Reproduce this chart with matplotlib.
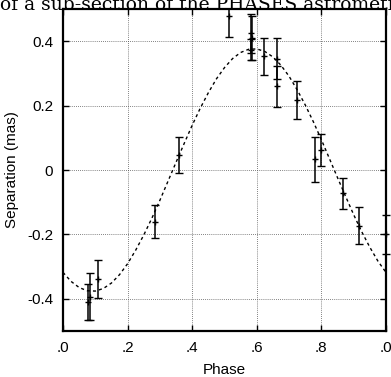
import matplotlib.pyplot as plt
import numpy as np

# measured points: orbital phase, separation (mas), 1-sigma error (mas)
phase = [0.078, 0.083, 0.107, 0.285, 0.360, 0.514, 0.582, 0.584, 0.583,
         0.623, 0.662, 0.664, 0.725, 0.780, 0.799, 0.867, 0.917, 1.000]
sep = [-0.410, -0.393, -0.337, -0.160, 0.047, 0.478, 0.424, 0.409, 0.374,
       0.353, 0.346, 0.260, 0.217, 0.034, 0.062, -0.072, -0.173, -0.200]
err = [0.055, 0.072, 0.059, 0.051, 0.055, 0.066, 0.062, 0.068, 0.033,
       0.058, 0.064, 0.063, 0.059, 0.070, 0.050, 0.048, 0.057, 0.060]

# model curve
model_phase = [0.000, 0.025, 0.050, 0.075, 0.100, 0.125, 0.150, 0.175, 0.200,
               0.225, 0.250, 0.275, 0.300, 0.325, 0.350, 0.375, 0.400, 0.425,
               0.450, 0.475, 0.500, 0.525, 0.550, 0.575, 0.600, 0.625, 0.650,
               0.675, 0.700, 0.725, 0.750, 0.775, 0.800, 0.825, 0.850, 0.875,
               0.900, 0.925, 0.950, 0.975, 1.000]
model_sep = [-0.318, -0.346, -0.365, -0.375, -0.376, -0.368, -0.351, -0.325,
             -0.291, -0.249, -0.202, -0.150, -0.094, -0.035, 0.024, 0.082,
             0.139, 0.192, 0.240, 0.283, 0.318, 0.346, 0.365, 0.375, 0.376,
             0.368, 0.351, 0.325, 0.291, 0.249, 0.202, 0.150, 0.094, 0.035,
             -0.024, -0.082, -0.139, -0.192, -0.240, -0.283, -0.318]

xticks = [0.0, 0.2, 0.4, 0.6, 0.8, 1.0]
xticklabels = ['.0', '.2', '.4', '.6', '.8', '.0']
yticks = [-0.4, -0.2, 0.0, 0.2, 0.4]
yticklabels = ['-0.4', '-0.2', '0', '0.2', '0.4']

W, H = 391, 377
fig = plt.figure(figsize=(W / 100, H / 100), dpi=100)
ax = fig.add_axes([63 / W, 46 / H, 323 / W, 322 / H])

plt.rcParams['font.family'] = ['Liberation Sans', 'DejaVu Sans']
fs = 11

ax.plot(model_phase, model_sep, color='black', lw=1.0, ls=(0, (2.2, 2.2)), zorder=2)
ax.errorbar(phase[:-1], sep[:-1], yerr=err[:-1], fmt='+', color='black', ms=4, mew=1.0,
            elinewidth=1.1, capsize=2.6, capthick=1.1, zorder=3)
# last point sits on the right frame, show its caps past the spine
ax.errorbar(phase[-1:], sep[-1:], yerr=err[-1:], fmt='+', color='black', ms=4,
            mew=1.0, elinewidth=1.1, capsize=2.6, capthick=1.1, zorder=4, clip_on=False)

ax.set_xlim(0, 1)
ax.set_ylim(-0.5, 0.5)
ax.set_xticks(xticks)
ax.set_xticklabels(xticklabels, fontsize=fs, family='Liberation Sans')
ax.set_yticks(yticks)
ax.set_yticklabels(yticklabels, fontsize=fs, family='Liberation Sans')
ax.tick_params(direction='in', length=4, width=1.0, top=True, right=True, pad=7)
ax.grid(True, color='0.35', lw=0.6, ls=(0, (1, 1.5)))
for s in ax.spines.values():
    s.set_linewidth(1.6)

ax.set_xlabel('Phase', fontsize=fs, family='Liberation Sans', labelpad=6)
ax.set_ylabel('Separation (mas)', fontsize=fs, family='Liberation Sans', labelpad=6)

# caption text cut off at the top of the crop
fig.text(0.0, 1 - 10.5 / H, 'of a sub-section of the PHASES astrometric',
         family='DejaVu Serif', fontsize=13.5, va='baseline', ha='left')

fig.savefig('out.png', dpi=100)
